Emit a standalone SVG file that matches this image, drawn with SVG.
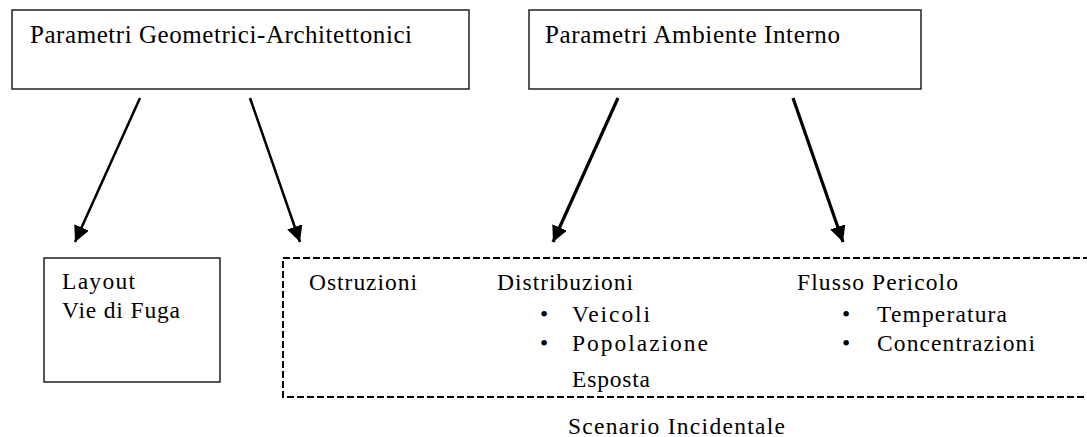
<svg xmlns="http://www.w3.org/2000/svg" width="1087" height="437" viewBox="0 0 1087 437">
<style>
text{font-family:"Liberation Serif","Times New Roman",serif;font-size:23.5px;fill:#000}
.t{font-size:25px}
.box{fill:#fff;stroke:#222;stroke-width:1.5}
.dash{fill:none;stroke:#000;stroke-width:2;stroke-dasharray:7 3}
.c1{stroke:#000;stroke-width:2.5;fill:none}
.c2{stroke:#000;stroke-width:3.2;fill:none}
</style>
<defs>
<marker id="ah" markerUnits="userSpaceOnUse" viewBox="0 0 16 16" refX="16" refY="8" markerWidth="16" markerHeight="16" orient="auto">
<path d="M0,0 L16,8 L0,16 z" fill="#000"/>
</marker>
</defs>
<rect width="1087" height="437" fill="#fff"/>
<g id="node-geom">
<rect class="box" x="12" y="10" width="457" height="79"/>
<text class="t" x="30" y="43" textLength="382" lengthAdjust="spacing">Parametri Geometrici-Architettonici</text>
</g>
<g id="node-amb">
<rect class="box" x="529" y="10" width="392" height="79"/>
<text class="t" x="545" y="43" textLength="295" lengthAdjust="spacing">Parametri Ambiente Interno</text>
</g>
<g id="node-layout">
<rect class="box" x="44" y="258" width="176" height="124"/>
<text x="62" y="289" textLength="73" lengthAdjust="spacing">Layout</text>
<text x="62" y="318" textLength="118" lengthAdjust="spacing">Vie di Fuga</text>
</g>
<g id="node-scenario">
<path class="dash" d="M1090,258 H283 V397 H1090"/>
<text x="309" y="290" textLength="108" lengthAdjust="spacing">Ostruzioni</text>
<text x="497" y="290" textLength="136" lengthAdjust="spacing">Distribuzioni</text>
<text x="540" y="322">•</text>
<text x="572" y="322" textLength="78" lengthAdjust="spacing">Veicoli</text>
<text x="540" y="351">•</text>
<text x="572" y="351" textLength="136" lengthAdjust="spacing">Popolazione</text>
<text x="572" y="387" textLength="78" lengthAdjust="spacing">Esposta</text>
<text x="797" y="290" textLength="161" lengthAdjust="spacing">Flusso Pericolo</text>
<text x="842" y="322">•</text>
<text x="877" y="322" textLength="130" lengthAdjust="spacing">Temperatura</text>
<text x="842" y="351">•</text>
<text x="877" y="351" textLength="158" lengthAdjust="spacing">Concentrazioni</text>
<text x="568" y="434" textLength="217" lengthAdjust="spacing">Scenario Incidentale</text>
</g>
<g id="connectors">
<line class="c1" x1="140" y1="98" x2="75" y2="242" marker-end="url(#ah)"/>
<line class="c1" x1="250" y1="98" x2="300" y2="242" marker-end="url(#ah)"/>
<line class="c2" x1="618" y1="98" x2="553" y2="242" marker-end="url(#ah)"/>
<line class="c2" x1="793" y1="98" x2="843" y2="242" marker-end="url(#ah)"/>
</g>
</svg>
